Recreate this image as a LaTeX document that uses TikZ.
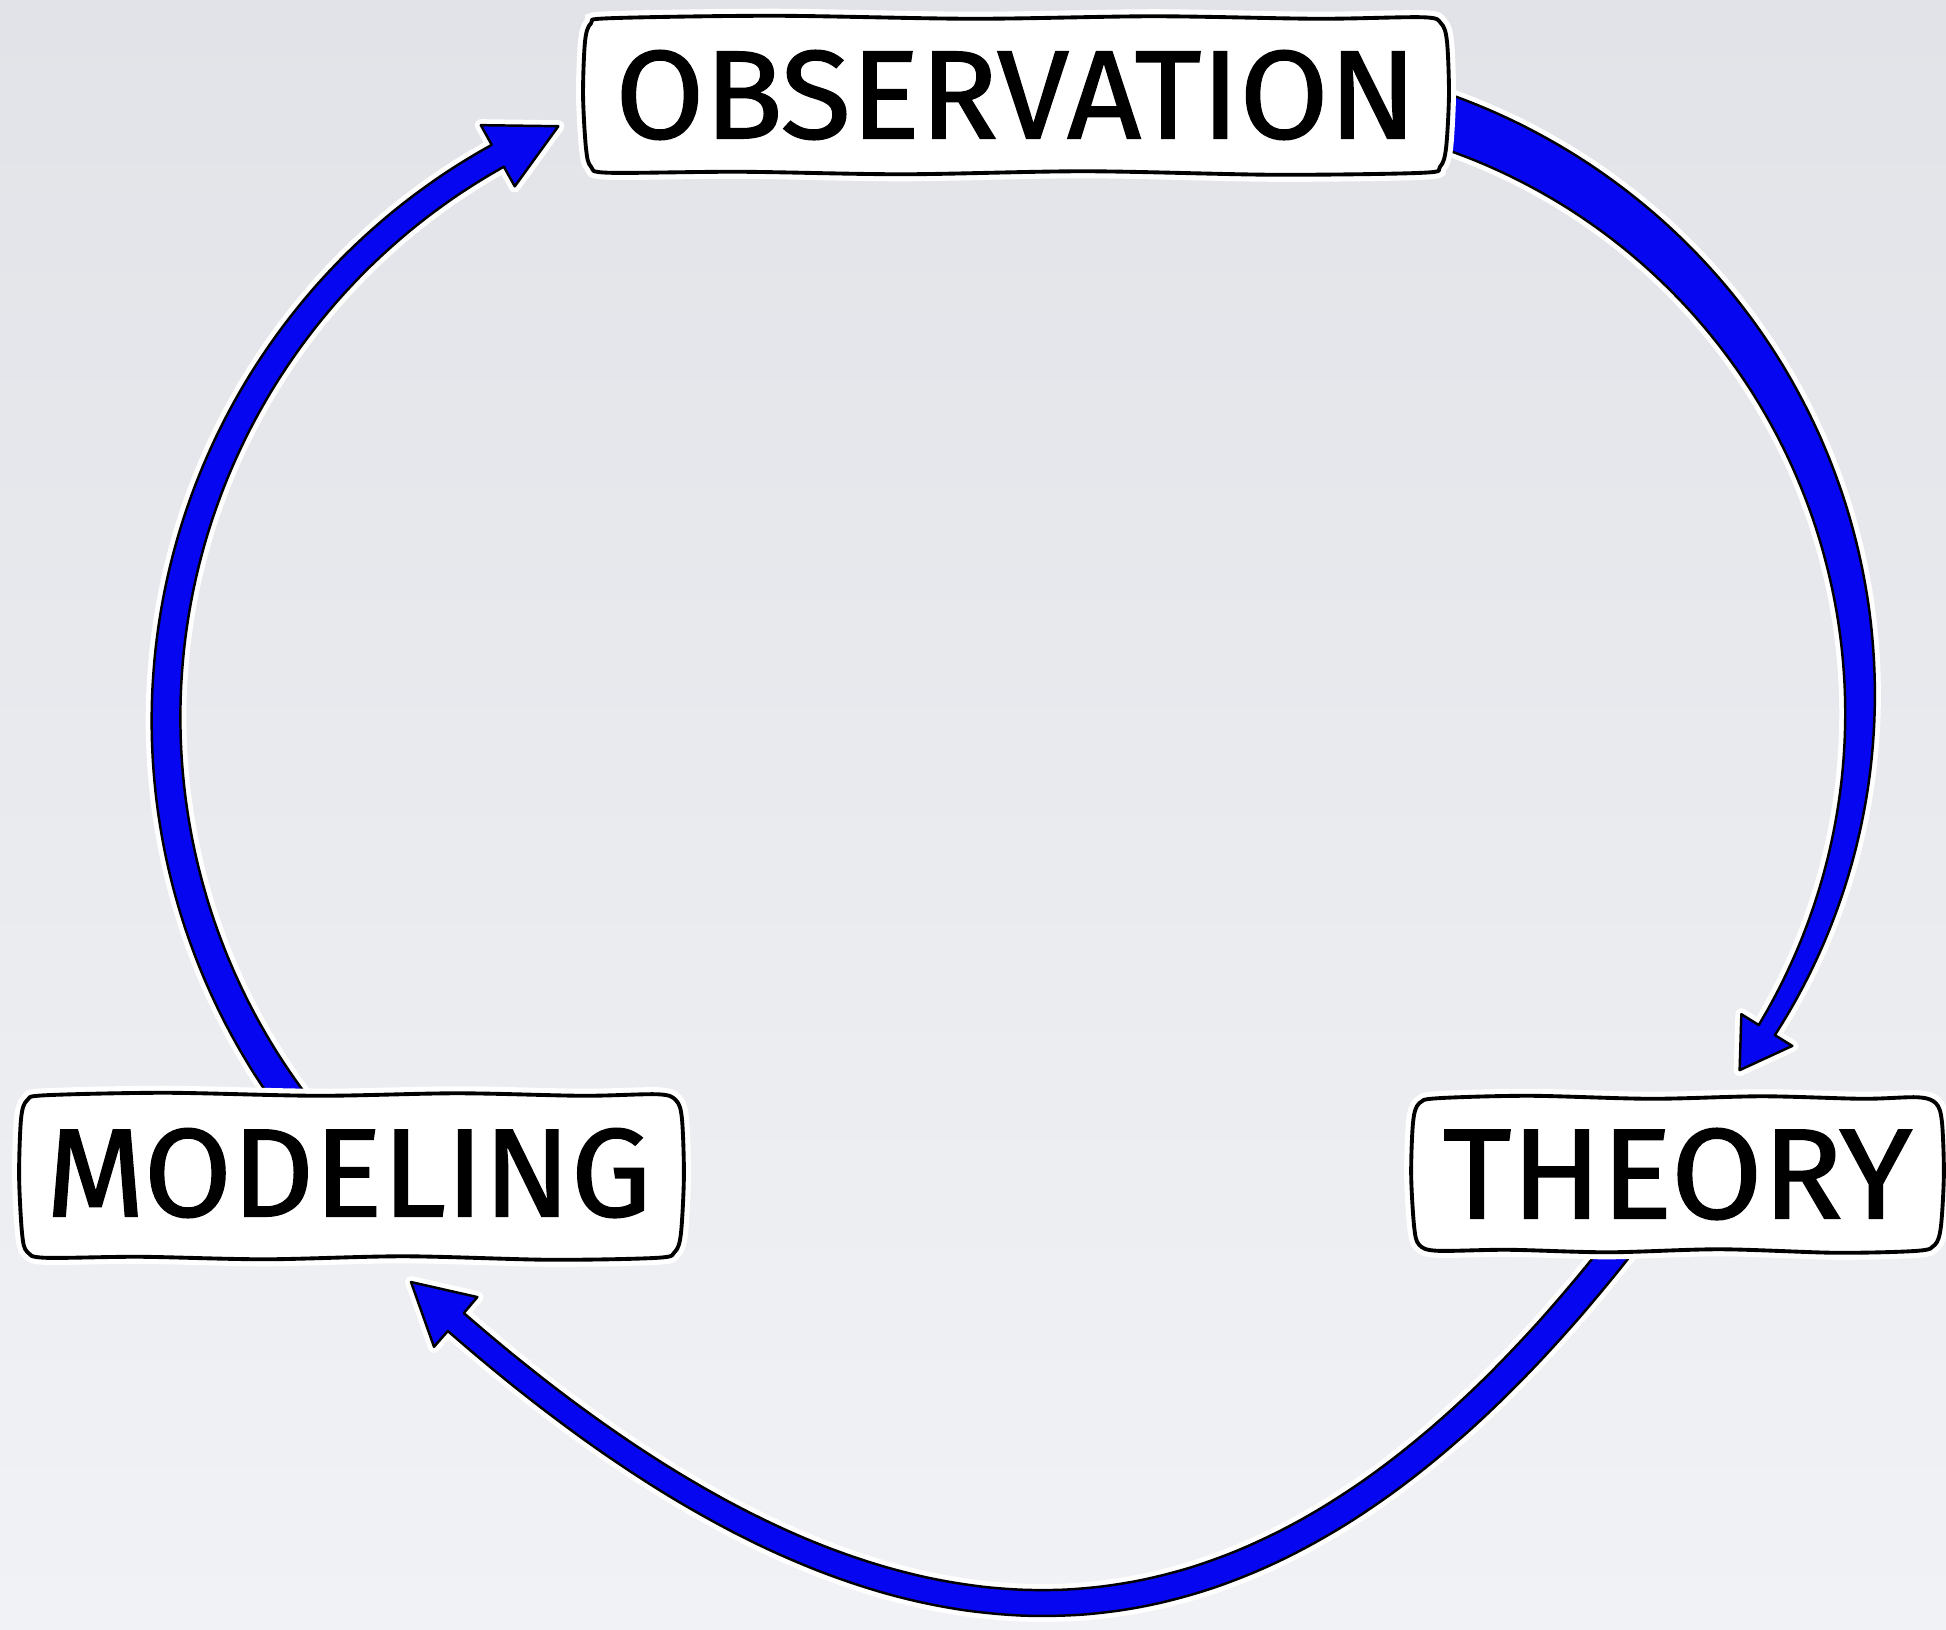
\documentclass[tikz,border=0pt]{standalone}
\usepackage{fontspec}
\usepackage{graphicx}
\usetikzlibrary{calc}
\newfontfamily\labfont{Fira Sans}[FakeBold=1.2]
\definecolor{bgtop}{RGB}{225,227,232}
\definecolor{bgbot}{RGB}{241,242,245}
\definecolor{arrowblue}{RGB}{6,6,240}
% tapered arrow along a circular arc:
% #1,#2 centre, #3 radius, #4 start angle, #5 angle of head base, #6 angle of tip,
% #7 half width at start, #8 half width at head, #9 half width of the head
\newcommand\taperarc[9]{%
  \draw[flow]
    plot[smooth, domain=#4:#5, samples=60]
      ({#1+(#3+((#7)+((#8)-(#7))*(\x-(#4))/((#5)-(#4))))*cos(\x)},
       {#2+(#3+((#7)+((#8)-(#7))*(\x-(#4))/((#5)-(#4))))*sin(\x)})
    -- ({#1+(#3+#9)*cos(#5)}, {#2+(#3+#9)*sin(#5)})
    -- ({#1+#3*cos(#6)}, {#2+#3*sin(#6)})
    -- ({#1+(#3-#9)*cos(#5)}, {#2+(#3-#9)*sin(#5)})
    -- plot[smooth, domain=#4:#5, samples=60]
      ({#1+(#3-((#7)+((#8)-(#7))*((#5)-\x)/((#5)-(#4))))*cos((#4)+(#5)-\x)},
       {#2+(#3-((#7)+((#8)-(#7))*((#5)-\x)/((#5)-(#4))))*sin((#4)+(#5)-\x)})
    -- cycle;}
% tapered arrow along a cubic Bezier P0..P3 (tip at P3), values set in macros
\newcommand\taperbez{%
  \draw[flow, declare function={
      bx(\t)=(1-\t)^3*\PAx+3*(1-\t)^2*\t*\PBx+3*(1-\t)*\t^2*\PCx+\t^3*\PDx;
      by(\t)=(1-\t)^3*\PAy+3*(1-\t)^2*\t*\PBy+3*(1-\t)*\t^2*\PCy+\t^3*\PDy;
      bdx(\t)=3*(1-\t)^2*(\PBx-\PAx)+6*(1-\t)*\t*(\PCx-\PBx)+3*\t^2*(\PDx-\PCx);
      bdy(\t)=3*(1-\t)^2*(\PBy-\PAy)+6*(1-\t)*\t*(\PCy-\PBy)+3*\t^2*(\PDy-\PCy);
      bang(\t)=atan2(bdy(\t),bdx(\t));
      bw(\t)=\wS+(\wE-\wS)*\t/\tB;}]
    plot[smooth, domain=0:\tB, samples=60, variable=\t]
      ({bx(\t)-bw(\t)*sin(bang(\t))}, {by(\t)+bw(\t)*cos(bang(\t))})
    -- ({bx(\tB)-\wH*sin(bang(\tB))}, {by(\tB)+\wH*cos(bang(\tB))})
    -- (\PDx,\PDy)
    -- ({bx(\tB)+\wH*sin(bang(\tB))}, {by(\tB)-\wH*cos(bang(\tB))})
    -- plot[smooth, domain=0:\tB, samples=60, variable=\t]
      ({bx(\tB-\t)+bw(\tB-\t)*sin(bang(\tB-\t))}, {by(\tB-\t)-bw(\tB-\t)*cos(bang(\tB-\t))})
    -- cycle;}
% hand-drawn looking outline round a placement node
\newcommand\handbox[1]{%
  \coordinate (#1p1) at ($(#1.north west)+(24,1)$);
  \coordinate (#1p2) at ($(#1.north west)!0.22!(#1.north east)+(0,-1.5)$);
  \coordinate (#1p3) at ($(#1.north west)!0.45!(#1.north east)+(0,1.5)$);
  \coordinate (#1p4) at ($(#1.north west)!0.66!(#1.north east)+(0,-1)$);
  \coordinate (#1p5) at ($(#1.north west)!0.85!(#1.north east)+(0,1.5)$);
  \coordinate (#1p6) at ($(#1.north east)+(-24,0)$);
  \coordinate (#1p6a) at ($(#1.north east)+(-6,6)$);
  \coordinate (#1p7) at ($(#1.north east)+(0,24)$);
  \coordinate (#1p8) at ($(#1.east)+(2,0)$);
  \coordinate (#1p9) at ($(#1.south east)+(-1,-24)$);
  \coordinate (#1p9a) at ($(#1.south east)+(-7,-6)$);
  \coordinate (#1p10) at ($(#1.south east)+(-24,0)$);
  \coordinate (#1p11) at ($(#1.south east)!0.2!(#1.south west)+(0,2)$);
  \coordinate (#1p12) at ($(#1.south east)!0.42!(#1.south west)+(0,-1.5)$);
  \coordinate (#1p13) at ($(#1.south east)!0.63!(#1.south west)+(0,1.5)$);
  \coordinate (#1p14) at ($(#1.south east)!0.82!(#1.south west)+(0,-1)$);
  \coordinate (#1p15) at ($(#1.south west)+(24,0)$);
  \coordinate (#1p15a) at ($(#1.south west)+(6,-6)$);
  \coordinate (#1p16) at ($(#1.south west)+(1,-24)$);
  \coordinate (#1p17) at ($(#1.west)+(-2,0)$);
  \coordinate (#1p18) at ($(#1.north west)+(0,24)$);
  \coordinate (#1p18a) at ($(#1.north west)+(6,6)$);
  \draw[boxline] plot[smooth cycle, tension=0.5] coordinates {(#1p1) (#1p2) (#1p3) (#1p4) (#1p5) (#1p6) (#1p6a)
    (#1p7) (#1p8) (#1p9) (#1p9a) (#1p10) (#1p11) (#1p12) (#1p13) (#1p14) (#1p15) (#1p15a) (#1p16) (#1p17) (#1p18) (#1p18a)};}
\tikzset{
  boxline/.style={draw=black, line width=1.1pt, fill=white, line join=round,
    preaction={draw=white, line width=4pt}},
  flow/.style={fill=arrowblue, draw=black, line width=0.7pt, line join=round,
    preaction={draw=white, line width=3.4pt, line join=round}},
  place/.style={inner sep=0pt},
}
\begin{document}
\begin{tikzpicture}[x=0.01cm, y=-0.01cm]
\useasboundingbox (0,0) rectangle (1946,1629);
\shade[top color=bgtop, bottom color=bgbot] (0,0) rectangle (1946,1629);

% placement nodes; outlines and texts are drawn on top of the arrows at the end
\node[place, minimum width=8.6cm, minimum height=1.54cm] (obs) at (1016,95) {};
\node[place, minimum width=6.59cm, minimum height=1.62cm] (model) at (351.5,1176) {};
\node[place, minimum width=5.27cm, minimum height=1.52cm] (theory) at (1677.5,1174) {};

% observation -> theory
\taperarc{1243}{704}{617}{-73}{31.9}{36.4}{27}{9.5}{30}
% theory -> modeling
\def\PAx{1625}\def\PAy{1240}
\def\PBx{1250}\def\PBy{1722}
\def\PCx{880}\def\PCy{1712}
\def\PDx{411}\def\PDy{1282}
\def\wS{14}\def\wE{12}\def\wH{33}\def\tB{0.968}
\taperbez
% modeling -> observation
\taperarc{810}{719}{644}{143}{241}{247}{15.5}{12.5}{35}

% boxes on top
\handbox{obs}
\handbox{model}
\handbox{theory}
\node[place] (obstext) at (obs) {\resizebox{8.01cm}{0.88cm}{\labfont OBSERVATION}};
\node[place] (modtext) at ($(model)+(-3,-3)$) {\resizebox{6.05cm}{0.88cm}{\labfont MODELING}};
\node[place] (theotext) at (theory) {\resizebox{4.69cm}{0.90cm}{\labfont THEORY}};
\end{tikzpicture}
\end{document}
